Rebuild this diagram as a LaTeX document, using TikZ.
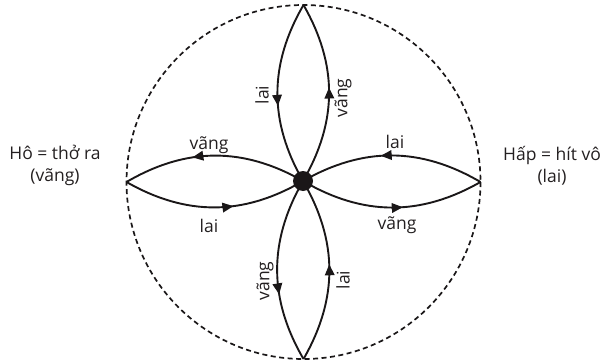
\documentclass[tikz,border=0pt]{standalone}
\usepackage{fontspec}
\setmainfont{Open Sans}
\usetikzlibrary{arrows.meta, decorations.markings}
\definecolor{cLine}{HTML}{1A1718}
\definecolor{cText}{HTML}{231F20}

\begin{document}
\begin{tikzpicture}[
    x=1pt, y=-1pt,
    font=\fontsize{17.5}{22}\selectfont\color{cText},
    % Core styles
    petal/.style={line width=1.9pt, draw=cLine, color=cLine},
    flow/.style={postaction={decorate}, decoration={markings, mark=at position #1 with {\arrow{Triangle[length=11pt, width=9.5pt]}}}},
    border/.style={draw=cLine, line width=1.7pt, dash pattern=on 5pt off 3.5pt},
    hub/.style={circle, fill=cLine, inner sep=0pt, minimum size=20pt},
    tag/.style={inner sep=1pt},
    side/.style={align=center, inner sep=0pt}
]

% --- FRAME ---
\useasboundingbox (0,0) rectangle (605,364);
\coordinate (mid) at (303.5,182);
\coordinate (c) at (303,181);
\coordinate (top) at (303.5,5);
\coordinate (bottom) at (303.5,359);
\coordinate (left) at (126.5,182);
\coordinate (right) at (480.5,182);
\draw[border] (mid) circle[radius=177];

% --- PETALS ---
\draw[petal, flow=0.57] (top) to[bend right=30] (c);
\draw[petal, flow=0.53] (c) to[bend right=30] (top);
\draw[petal, flow=0.62] (c) to[bend right=30] (left);
\draw[petal, flow=0.60] (left) to[bend right=30] (c);
\draw[petal, flow=0.56] (right) to[bend right=30] (c);
\draw[petal, flow=0.56] (c) to[bend right=30] (right);
\draw[petal, flow=0.63] (c) to[bend right=30] (bottom);
\draw[petal, flow=0.53] (bottom) to[bend right=30] (c);
\node[hub] (dot) at (c) {};

% --- LABELS ---
\node[tag, rotate=90] (lai_top) at (262,95) {lai};
\node[tag, rotate=90] (vang_top) at (343,98) {vãng};
\node[tag] (vang_left) at (209,145) {vãng};
\node[tag] (lai_left) at (209,226) {lai};
\node[tag] (lai_right) at (395,142) {lai};
\node[tag] (vang_right) at (397,225) {vãng};
\node[tag, rotate=90] (vang_bottom) at (265,281) {vãng};
\node[tag, rotate=90] (lai_bottom) at (343,280) {lai};

% --- SIDES ---
\node[side] (exhale) at (55,165) {Hô = thở ra\\(vãng)};
\node[side] (inhale) at (552,166) {Hấp = hít vô\\(lai)};

\end{tikzpicture}
\end{document}
